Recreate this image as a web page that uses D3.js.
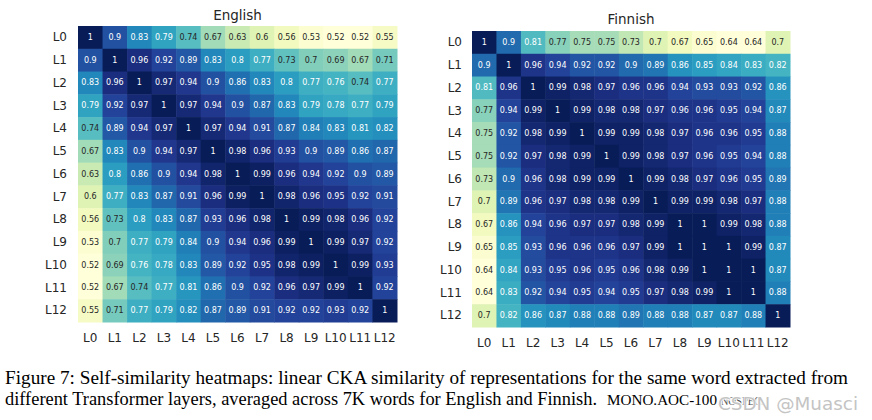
<!DOCTYPE html>
<html>
<head>
<meta charset="utf-8">
<script src="https://cdn.jsdelivr.net/npm/d3@7"></script>
<style>
  html, body { margin: 0; padding: 0; background: #fff; }
  svg { display: block; }
  .serif { font-family: "Liberation Serif", "Times New Roman", Times, serif; }
</style>
</head>
<body>
<svg id="chart" width="872" height="420"></svg>
<script>
const layers = ["L0","L1","L2","L3","L4","L5","L6","L7","L8","L9","L10","L11","L12"];

const englishValues = [
  [1, 0.9, 0.83, 0.79, 0.74, 0.67, 0.63, 0.6, 0.56, 0.53, 0.52, 0.52, 0.55],
  [0.9, 1, 0.96, 0.92, 0.89, 0.83, 0.8, 0.77, 0.73, 0.7, 0.69, 0.67, 0.71],
  [0.83, 0.96, 1, 0.97, 0.94, 0.9, 0.86, 0.83, 0.8, 0.77, 0.76, 0.74, 0.77],
  [0.79, 0.92, 0.97, 1, 0.97, 0.94, 0.9, 0.87, 0.83, 0.79, 0.78, 0.77, 0.79],
  [0.74, 0.89, 0.94, 0.97, 1, 0.97, 0.94, 0.91, 0.87, 0.84, 0.83, 0.81, 0.82],
  [0.67, 0.83, 0.9, 0.94, 0.97, 1, 0.98, 0.96, 0.93, 0.9, 0.89, 0.86, 0.87],
  [0.63, 0.8, 0.86, 0.9, 0.94, 0.98, 1, 0.99, 0.96, 0.94, 0.92, 0.9, 0.89],
  [0.6, 0.77, 0.83, 0.87, 0.91, 0.96, 0.99, 1, 0.98, 0.96, 0.95, 0.92, 0.91],
  [0.56, 0.73, 0.8, 0.83, 0.87, 0.93, 0.96, 0.98, 1, 0.99, 0.98, 0.96, 0.92],
  [0.53, 0.7, 0.77, 0.79, 0.84, 0.9, 0.94, 0.96, 0.99, 1, 0.99, 0.97, 0.92],
  [0.52, 0.69, 0.76, 0.78, 0.83, 0.89, 0.92, 0.95, 0.98, 0.99, 1, 0.99, 0.93],
  [0.52, 0.67, 0.74, 0.77, 0.81, 0.86, 0.9, 0.92, 0.96, 0.97, 0.99, 1, 0.92],
  [0.55, 0.71, 0.77, 0.79, 0.82, 0.87, 0.89, 0.91, 0.92, 0.92, 0.93, 0.92, 1]
];

const finnishValues = [
  [1, 0.9, 0.81, 0.77, 0.75, 0.75, 0.73, 0.7, 0.67, 0.65, 0.64, 0.64, 0.7],
  [0.9, 1, 0.96, 0.94, 0.92, 0.92, 0.9, 0.89, 0.86, 0.85, 0.84, 0.83, 0.82],
  [0.81, 0.96, 1, 0.99, 0.98, 0.97, 0.96, 0.96, 0.94, 0.93, 0.93, 0.92, 0.86],
  [0.77, 0.94, 0.99, 1, 0.99, 0.98, 0.98, 0.97, 0.96, 0.96, 0.95, 0.94, 0.87],
  [0.75, 0.92, 0.98, 0.99, 1, 0.99, 0.99, 0.98, 0.97, 0.96, 0.96, 0.95, 0.88],
  [0.75, 0.92, 0.97, 0.98, 0.99, 1, 0.99, 0.98, 0.97, 0.96, 0.95, 0.94, 0.88],
  [0.73, 0.9, 0.96, 0.98, 0.99, 0.99, 1, 0.99, 0.98, 0.97, 0.96, 0.95, 0.89],
  [0.7, 0.89, 0.96, 0.97, 0.98, 0.98, 0.99, 1, 0.99, 0.99, 0.98, 0.97, 0.88],
  [0.67, 0.86, 0.94, 0.96, 0.97, 0.97, 0.98, 0.99, 1, 1, 0.99, 0.98, 0.88],
  [0.65, 0.85, 0.93, 0.96, 0.96, 0.96, 0.97, 0.99, 1, 1, 1, 0.99, 0.87],
  [0.64, 0.84, 0.93, 0.95, 0.96, 0.95, 0.96, 0.98, 0.99, 1, 1, 1, 0.87],
  [0.64, 0.83, 0.92, 0.94, 0.95, 0.94, 0.95, 0.97, 0.98, 0.99, 1, 1, 0.88],
  [0.7, 0.82, 0.86, 0.87, 0.88, 0.88, 0.89, 0.88, 0.88, 0.87, 0.87, 0.88, 1]
];

const titles = ["English", "Finnish"];
const captionLine1 = "Figure 7: Self-similarity heatmaps: linear CKA similarity of representations for the same word extracted from";
const captionLine2 = "different Transformer layers, averaged across 7K words for English and Finnish.";
const captionSmallCaps = "MONO.AOC-100";
const captionHidden = ".NOSPEC.";
const watermark = "CSDN @Muasci";

const svg = d3.select("#chart");

function luminance(c) {
  const rgb = d3.rgb(c);
  const f = v => { v /= 255; return v <= 0.03928 ? v / 12.92 : Math.pow((v + 0.055) / 1.055, 2.4); };
  return 0.2126 * f(rgb.r) + 0.7152 * f(rgb.g) + 0.0722 * f(rgb.b);
}

function drawHeatmap(values, title, box) {
  const g = svg.append("g");
  const x = d3.scaleBand().domain(layers).range([box.x0, box.x1]);
  const y = d3.scaleBand().domain(layers).range([box.y0, box.y1]);
  const flat = values.flat();
  const color = d3.scaleSequential(d3.interpolateYlGnBu).domain([d3.min(flat), d3.max(flat)]);

  const cells = [];
  values.forEach((row, i) => row.forEach((v, j) => cells.push({ r: layers[i], c: layers[j], v })));

  g.selectAll("rect.cell").data(cells).join("rect")
    .attr("class", "cell")
    .attr("x", d => x(d.c))
    .attr("y", d => y(d.r))
    .attr("width", x.bandwidth() + 0.5)
    .attr("height", y.bandwidth() + 0.5)
    .attr("fill", d => color(d.v));

  g.selectAll("text.annot").data(cells).join("text")
    .attr("class", "annot")
    .attr("x", d => x(d.c) + x.bandwidth() / 2)
    .attr("y", d => y(d.r) + y.bandwidth() / 2)
    .attr("text-anchor", "middle")
    .attr("dominant-baseline", "central")
    .attr("font-family", "DejaVu Sans")
    .attr("font-size", 8)
    .attr("fill", d => luminance(color(d.v)) > 0.408 ? "#262626" : "#ffffff")
    .text(d => String(d.v));

  const xAxis = d3.axisBottom(x).tickSize(0).tickPadding(box.xPad);
  const yAxis = d3.axisLeft(y).tickSize(0).tickPadding(box.yPad);
  const gx = g.append("g").attr("transform", `translate(0,${box.y1})`).call(xAxis);
  const gy = g.append("g").attr("transform", `translate(${box.x0},0)`).call(yAxis);
  [gx, gy].forEach(a => {
    a.select(".domain").remove();
    a.selectAll("text").attr("font-family", "DejaVu Sans").attr("font-size", 12).attr("fill", "#262626");
  });

  g.append("text")
    .attr("x", (box.x0 + box.x1) / 2)
    .attr("y", box.titleY)
    .attr("text-anchor", "middle")
    .attr("font-family", "DejaVu Sans")
    .attr("font-size", 13.5)
    .attr("fill", "#262626")
    .text(title);
}

drawHeatmap(englishValues, titles[0], { x0: 78, x1: 397, y0: 26, y1: 322, xPad: 11, yPad: 11, titleY: 20 });
drawHeatmap(finnishValues, titles[1], { x0: 472, x1: 790, y0: 31, y1: 327, xPad: 11, yPad: 10, titleY: 24 });

// caption
const cap = svg.append("g").attr("class", "serif").attr("fill", "#000");
cap.append("text")
  .attr("class", "serif")
  .attr("x", 5).attr("y", 384)
  .attr("font-size", 19)
  .attr("textLength", 843)
  .attr("lengthAdjust", "spacingAndGlyphs")
  .text(captionLine1);
cap.append("text")
  .attr("class", "serif")
  .attr("x", 5).attr("y", 405)
  .attr("font-size", 18.5)
  .attr("textLength", 592)
  .attr("lengthAdjust", "spacingAndGlyphs")
  .text(captionLine2);
cap.append("text")
  .attr("class", "serif")
  .attr("x", 607).attr("y", 405)
  .attr("font-size", 14)
  .attr("textLength", 110)
  .attr("lengthAdjust", "spacingAndGlyphs")
  .text(captionSmallCaps);
cap.append("text")
  .attr("class", "serif")
  .attr("x", 718).attr("y", 405)
  .attr("font-size", 12)
  .attr("fill", "#555")
  .attr("textLength", 46)
  .attr("lengthAdjust", "spacingAndGlyphs")
  .text(captionHidden);

svg.append("text")
  .attr("x", 718).attr("y", 410)
  .attr("font-family", "DejaVu Sans")
  .attr("font-size", 18)
  .attr("fill", "#c4c4c4")
  .attr("stroke", "#ffffff")
  .attr("stroke-width", 1.5)
  .attr("paint-order", "stroke")
  .attr("textLength", 140)
  .attr("lengthAdjust", "spacingAndGlyphs")
  .text(watermark);
</script>
</body>
</html>
